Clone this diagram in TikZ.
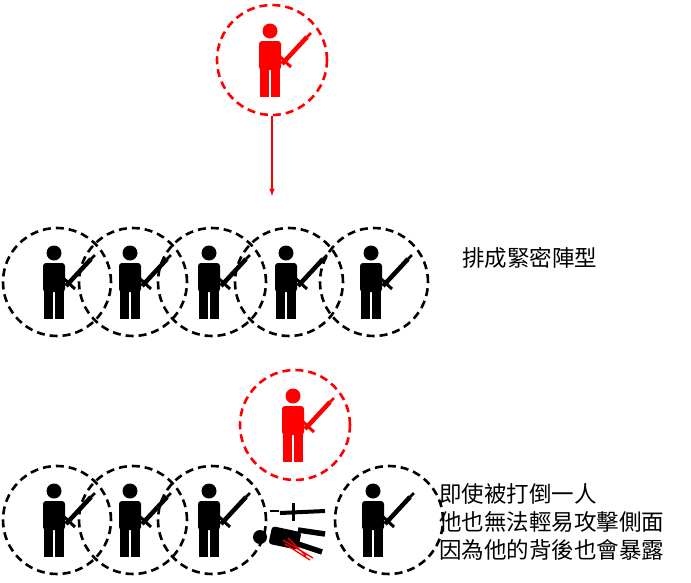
\documentclass[tikz,border=0pt]{standalone}
\usepackage{fontspec}
\newfontfamily\cjk{Noto Sans CJK TC}
\begin{document}
\begin{tikzpicture}[x=1pt,y=-1pt,
  ring/.style={draw=#1,dashed,dash pattern=on 8pt off 5pt,line width=2.6pt},
  lbl/.style={font=\cjk\fontsize{22.5}{28}\selectfont,align=left,anchor=west,inner sep=0pt},
  pics/man/.style={code={
    \fill[#1] (0,-29) circle (7.5);
    \fill[#1,rounded corners=3pt] (-11,-19) rectangle (11,10);
    \fill[#1] (-10,8) rectangle (-1,37);
    \fill[#1] (1,8) rectangle (10,37);
    \draw[#1,line width=4.5pt] (12,4) -- (37,-23);
    \draw[#1,line width=3pt] (6,-7) -- (21,7);
    \draw[#1,line width=2.5pt] (37,-23) -- (41,-27);
  }}]
\useasboundingbox (0,0) rectangle (691,582);
% top
\node[circle,minimum size=110pt,ring=red] (t) at (272,60) {};
\pic at (270,60) {man=red};
\coordinate (ab) at (272,196);
\draw[red,line width=1.5pt,-latex] (t.south) -- (ab);
% row 2
\foreach \x [count=\i] in {57,133,212,289,374}{
  \node[circle,minimum size=108pt,ring=black] (r\i) at (\x,282) {};
  \pic at (\x-3,282) {man=black};
}
\node[lbl] (l1) at (462,258) {排成緊密陣型};
% row 3
\node[circle,minimum size=110pt,ring=red] (rr) at (295,425) {};
\pic at (293,425) {man=red};
\foreach \x [count=\i] in {57,133,212,389}{
  \node[circle,minimum size=108pt,ring=black] (b\i) at (\x,520) {};
}
\foreach \x in {57,133,212,376}{ \pic at (\x-3,520) {man=black}; }
% fallen figure
\fill (260,537) circle (7);
\fill[rotate around={-12:(285,538)},rounded corners=3pt] (270,529) rectangle (300,547);
\draw[line width=5.5pt] (298,530) -- (325,534);
\draw[line width=5.5pt] (298,544) -- (322,552);
\draw[line width=4pt] (280,513) -- (325,511);
\draw[line width=3pt] (293,503) -- (293,521);
\draw[line width=2.5pt] (270,511) -- (279,511);
\draw[red,line width=1.3pt] (283,540) -- (313,558) (285,544) -- (310,560) (288,538) -- (306,556);
\node[lbl] (l2) at (439,522) {即使被打倒一人\\他也無法輕易攻擊側面\\因為他的背後也會暴露};
\end{tikzpicture}
\end{document}
